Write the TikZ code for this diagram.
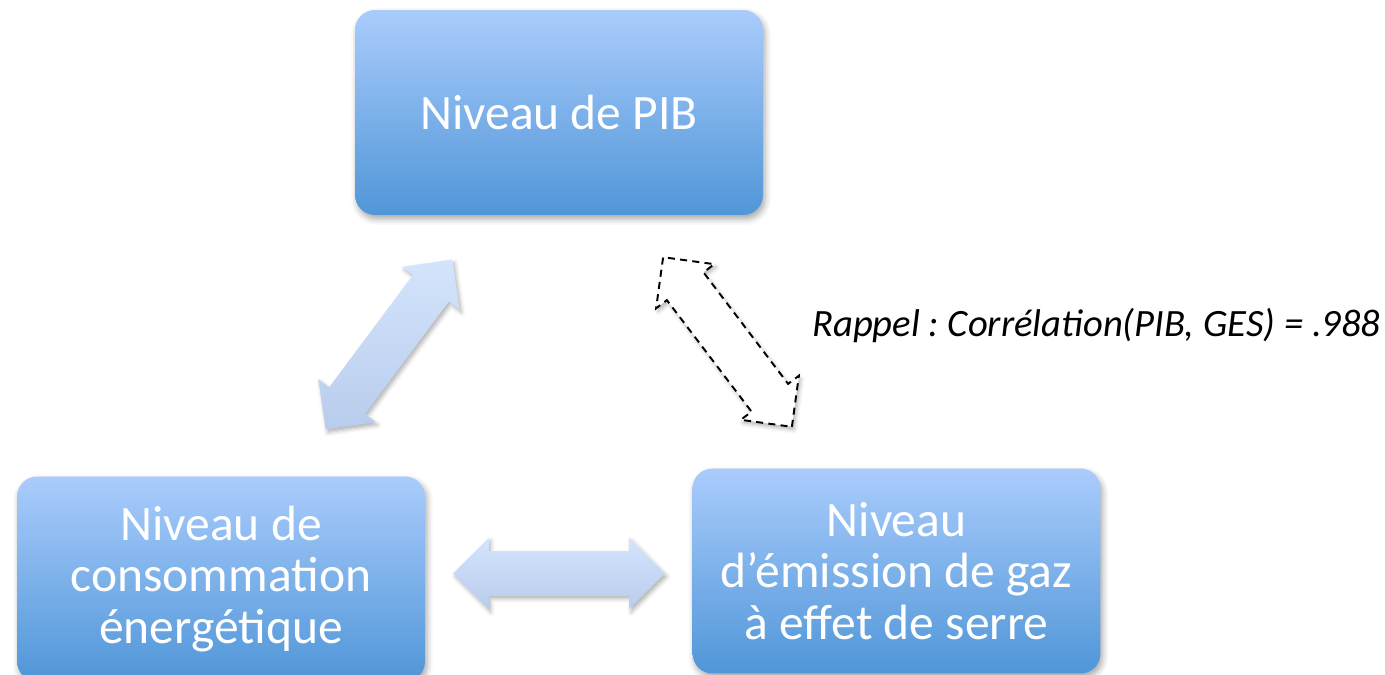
\documentclass[tikz,border=0pt]{standalone}
\usepackage{fontspec}
\setmainfont{Carlito}
\frenchspacing
\usetikzlibrary{shapes.arrows,shadows.blur}
\definecolor{boxtop}{RGB}{170,204,252}
\definecolor{boxbottom}{RGB}{80,150,216}
\definecolor{arrowtop}{RGB}{212,228,252}
\definecolor{arrowbottom}{RGB}{184,204,236}
\begin{document}
\begin{tikzpicture}[x=0.02cm, y=-0.02cm,
levelnode/.style={rounded corners=0.4cm, top color=boxtop, bottom color=boxbottom, minimum width=8.16cm, minimum height=4.1cm, inner sep=0pt, align=center, text=white, font=\fontsize{28.2}{29.5}\selectfont, blur shadow={shadow xshift=0.04cm, shadow yshift=-0.08cm, shadow opacity=35, shadow blur radius=0.12cm}},
linknode/.style={double arrow, double arrow head extend=0.27cm, double arrow tip angle=90, inner xsep=0pt, inner ysep=0.44cm, minimum height=4.24cm, top color=arrowtop, bottom color=arrowbottom, blur shadow={shadow xshift=0.04cm, shadow yshift=-0.06cm, shadow opacity=30, shadow blur radius=0.08cm}},
recallnode/.style={double arrow, double arrow head extend=0.27cm, double arrow tip angle=90, inner xsep=0pt, inner ysep=0.44cm, minimum height=4.26cm, draw=black, line width=1.1pt, dash pattern=on 4pt off 3pt, fill=white, blur shadow={shadow xshift=0.04cm, shadow yshift=-0.06cm, shadow opacity=30, shadow blur radius=0.08cm}},
]
\useasboundingbox (0,0) rectangle (1385,675);
\clip (0,0) rectangle (1385,675);
%Nodes
\node[levelnode] (pib) at (559,112.5) {Niveau de PIB};
\node[levelnode] (conso) at (221,579) {Niveau de\\consommation\\énergétique};
\node[levelnode] (ges) at (896.5,571) {Niveau\\d’émission de gaz\\à effet de serre};
\node[font=\fontsize{22}{25}\selectfont\itshape, anchor=west] (rappel) at (806,325) {Rappel : Corrélation(PIB, GES) = .988};

%Lines
\node[linknode, rotate=53.3] (pib_conso) at (389,344.5) {};
\node[linknode] (conso_ges) at (559,573.5) {};
\node[recallnode, rotate=-52.8] (pib_ges) at (727.5,342) {};
\end{tikzpicture}
\end{document}
